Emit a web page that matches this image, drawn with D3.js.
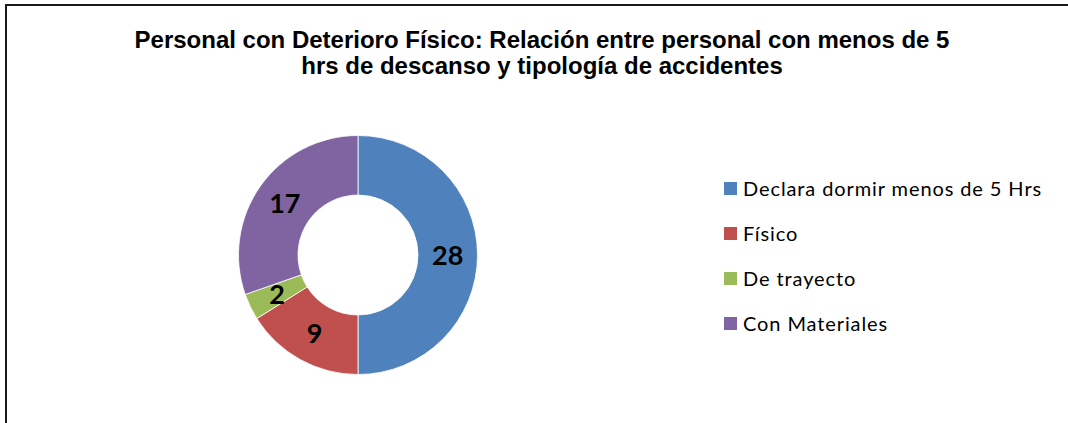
<!DOCTYPE html>
<html>
<head>
<meta charset="utf-8">
<script src="https://cdn.jsdelivr.net/npm/d3@7"></script>
<style>
  body { margin: 0; background: #fff; }
  svg { display: block; }
</style>
</head>
<body>
<div id="chart"></div>
<script>
const categories = ['Declara dormir menos de 5 Hrs', 'Físico', 'De trayecto', 'Con Materiales'];
const values = [28, 9, 2, 17];
const colors = ['#4F81BD', '#C0504D', '#9BBB59', '#8064A2'];
const titleLines = [
    'Personal con Deterioro Físico: Relación entre personal con menos de 5',
    'hrs de descanso y tipología de accidentes'
];

const width = 1068;
const height = 423;
const cx = 358;
const cy = 255;
const outerR = 119.5;
const innerR = 60;

const data = categories.map((c, i) => ({ name: c, value: values[i], color: colors[i] }));

const svg = d3.select('#chart')
    .append('svg')
    .attr('width', width)
    .attr('height', height);

// chart frame
svg.append('rect')
    .attr('x', 6)
    .attr('y', 5)
    .attr('width', width + 20)
    .attr('height', height + 20)
    .attr('fill', 'none')
    .attr('stroke', '#1a1a1a')
    .attr('stroke-width', 2);

svg.append('g')
    .selectAll('text')
    .data(titleLines)
    .join('text')
    .attr('x', 542)
    .attr('y', (d, i) => 48 + i * 26)
    .attr('text-anchor', 'middle')
    .attr('font-family', 'Liberation Sans, Arial, sans-serif')
    .attr('font-weight', 'bold')
    .attr('font-size', '24px')
    .attr('fill', '#000')
    .text(d => d);

const pie = d3.pie().sort(null).value(d => d.value);
const arc = d3.arc().innerRadius(innerR).outerRadius(outerR);
const labelArc = d3.arc().innerRadius((innerR + outerR) / 2).outerRadius((innerR + outerR) / 2);

const g = svg.append('g').attr('transform', `translate(${cx},${cy})`);

const arcs = pie(data);

g.selectAll('path')
    .data(arcs)
    .join('path')
    .attr('d', arc)
    .attr('fill', d => d.data.color)
    .attr('stroke', '#fff')
    .attr('stroke-width', 0.8);

g.selectAll('text')
    .data(arcs)
    .join('text')
    .attr('transform', d => `translate(${labelArc.centroid(d)})`)
    .attr('text-anchor', 'middle')
    .attr('dy', '0.36em')
    .attr('font-family', 'Lato, Open Sans, sans-serif')
    .attr('font-weight', 'bold')
    .attr('font-size', '27px')
    .attr('fill', '#000')
    .text(d => d.data.value);

const y = d3.scaleBand()
    .domain(categories)
    .range([166, 346]);

const legend = svg.append('g')
    .selectAll('g')
    .data(data)
    .join('g')
    .attr('transform', d => `translate(724,${y(d.name) + y.bandwidth() / 2})`);

legend.append('rect')
    .attr('x', 0)
    .attr('y', -6.5)
    .attr('width', 13)
    .attr('height', 13)
    .attr('fill', d => d.color);

legend.append('text')
    .attr('x', 19)
    .attr('dy', '0.35em')
    .attr('font-family', 'Lato, Open Sans, sans-serif')
    .attr('font-size', '20px')
    .attr('letter-spacing', '0.9px')
    .attr('fill', '#000')
    .text(d => d.name);
</script>
</body>
</html>
